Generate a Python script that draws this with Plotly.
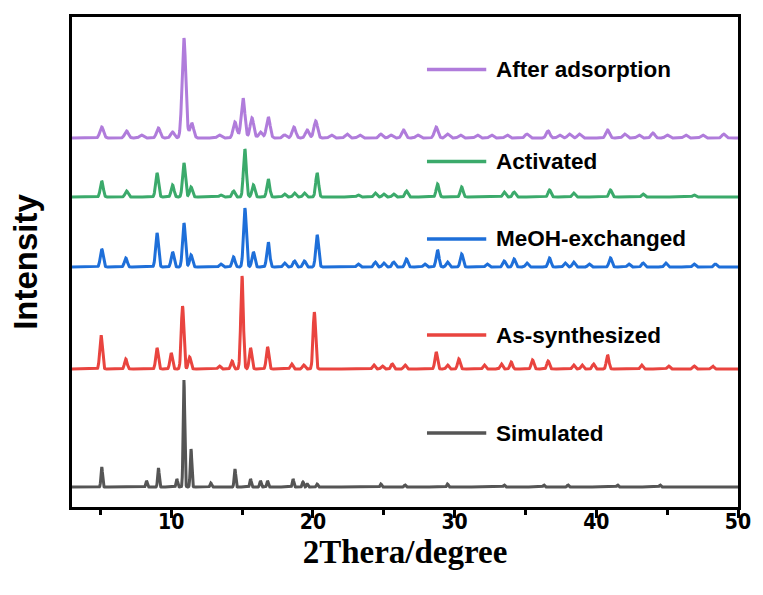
import numpy as np
import plotly.graph_objects as go

# Peak tables per pattern: 2-theta position (deg) and peak height (a.u.)
sim_pos = [5.1, 8.26, 9.1, 10.4, 10.9, 11.4, 12.8, 14.5, 15.6, 16.3, 16.8, 18.6, 19.3, 19.6,
           20.3, 24.8, 26.5, 29.5, 33.5, 36.3, 38.0, 41.5, 44.5]
sim_h = [20, 6, 19, 8, 107, 38, 4, 18, 8, 6, 6, 8, 5, 3,
         3, 3, 2, 3, 2, 2, 2, 2, 2]

asy_pos = [5.05, 6.8, 9.0, 10.0, 10.8, 11.3, 13.4, 14.3, 15.0, 15.6, 16.8, 18.5, 19.35, 20.1,
           24.3, 24.9, 25.6, 26.5, 28.7, 29.5, 30.3, 32.1, 33.3, 34.0, 35.5, 36.6, 38.4, 39.0,
           39.8, 40.8, 43.2, 45.1, 46.9, 48.2]
asy_h = [34, 10, 21, 16, 63, 12, 3, 8, 93, 21, 22, 5, 4, 57,
         4, 3, 5, 4, 17, 4, 10, 4, 5, 7, 9, 8, 4, 4,
         5, 14, 4, 3, 3, 3]

meoh_pos = [5.1, 6.8, 9.0, 10.1, 10.9, 11.4, 13.5, 14.4, 15.2, 15.8, 16.85, 18.0, 18.7, 19.4,
            20.3, 23.2, 24.4, 25.0, 25.7, 26.6, 27.9, 28.8, 29.5, 30.5, 32.3, 33.5, 34.2, 35.1,
            36.7, 37.8, 38.4, 39.5, 41.0, 42.3, 43.3, 44.9, 46.9, 48.4]
meoh_h = [18, 9, 34, 15, 44, 12, 3, 10, 59, 15, 25, 4, 6, 6,
          32, 3, 5, 4, 5, 8, 3, 17, 5, 13, 3, 6, 8, 4,
          9, 4, 5, 3, 9, 3, 4, 4, 3, 3]

act_pos = [5.1, 6.85, 9.0, 10.1, 10.9, 11.4, 13.5, 14.4, 15.2, 15.8, 16.85, 18.0, 18.7, 19.4,
           20.3, 23.2, 24.4, 25.0, 25.7, 26.6, 28.8, 30.5, 33.5, 34.2, 36.7, 38.4, 41.0, 43.3,
           46.9]
act_h = [16, 6, 24, 12, 34, 10, 2, 6, 48, 12, 18, 3, 4, 4,
         24, 2, 4, 3, 3, 6, 13, 10, 5, 5, 7, 4, 7, 3,
         2]

ads_pos = [5.1, 6.85, 7.9, 9.1, 10.1, 10.9, 11.45, 13.4, 14.5, 15.07, 15.7, 16.3, 16.85, 18.0,
           18.66, 19.6, 20.2, 21.3, 22.4, 23.3, 24.8, 25.5, 26.4, 27.4, 28.7, 29.5, 30.4, 31.6,
           32.6, 33.7, 35.1, 36.6, 37.4, 38.1, 38.8, 40.8, 42.0, 43.0, 44.0, 45.0, 46.3, 47.5,
           49.0]
ads_h = [11, 7, 3, 10, 6, 100, 15, 3, 16, 40, 20, 6, 21, 3,
         11, 8, 17, 3, 4, 3, 4, 3, 8, 3, 11, 4, 3, 3,
         3, 3, 4, 7, 3, 4, 4, 8, 4, 3, 5, 3, 3, 3,
         4]

names = ["Simulated", "As-synthesized", "MeOH-exchanged", "Activated", "After adsorption"]
colors = ["#555555", "#E9443F", "#1E6FD9", "#3BAA6B", "#B07CDB"]
offsets = [20, 138, 240, 310, 369]
widths = [0.055, 0.09, 0.1, 0.1, 0.13]
tables = [(sim_pos, sim_h), (asy_pos, asy_h), (meoh_pos, meoh_h),
          (act_pos, act_h), (ads_pos, ads_h)]

x = np.arange(3.0, 50.001, 0.02)


def profile(pos, h, sigma, base):
    y = np.full_like(x, float(base))
    for p, a in zip(pos, h):
        y += a * np.exp(-0.5 * ((x - p) / sigma) ** 2)
    return y


fig = go.Figure()
for (pos, h), name, col, off, sg in zip(tables, names, colors, offsets, widths):
    fig.add_trace(go.Scatter(x=x, y=profile(pos, h, sg, off), mode="lines", name=name,
                             line=dict(color=col, width=3), showlegend=False,
                             hoverinfo="skip"))

# Legend keys drawn next to each pattern
legend_y = [0.151, 0.351, 0.547, 0.705, 0.893]
for name, col, ly in zip(names, colors, legend_y):
    fig.add_shape(type="line", xref="paper", yref="paper", x0=0.533, x1=0.622, y0=ly, y1=ly,
                  line=dict(color=col, width=3.4))
    fig.add_annotation(xref="paper", yref="paper", x=0.633, y=ly, text=name, showarrow=False,
                       xanchor="left", yanchor="middle",
                       font=dict(family="Liberation Sans, Arial, sans-serif", size=22.5,
                                 color="#000", weight="bold"))

fig.update_layout(
    width=763, height=595,
    margin=dict(l=72, r=19, t=17, b=88),
    paper_bgcolor="white", plot_bgcolor="white",
    xaxis=dict(range=[3, 50], tick0=0, dtick=10, ticks="outside", ticklen=8, tickwidth=3,
               tickcolor="black", showline=True, linewidth=3, linecolor="black", mirror=True,
               showgrid=False, zeroline=False, ticklabelstandoff=-14,
               minor=dict(ticks="outside", ticklen=5, tickwidth=3, dtick=5, tickcolor="black",
                          showgrid=False),
               tickfont=dict(family="DejaVu Sans Condensed, Liberation Sans Narrow, Liberation Sans",
                             size=21, color="black", weight="bold"),
               title=dict(text="2Thera/degree", standoff=2,
                          font=dict(family="Liberation Serif, Times New Roman, serif", size=33,
                                    color="black", weight="bold"))),
    yaxis=dict(range=[0, 490], showticklabels=False, ticks="", showline=True, linewidth=3,
               linecolor="black", mirror=True, showgrid=False, zeroline=False,
               title=dict(text="Intensity", standoff=22,
                          font=dict(family="Liberation Sans, Arial, sans-serif", size=33,
                                    color="black", weight="bold"))),
)

fig.write_html("out.html")
